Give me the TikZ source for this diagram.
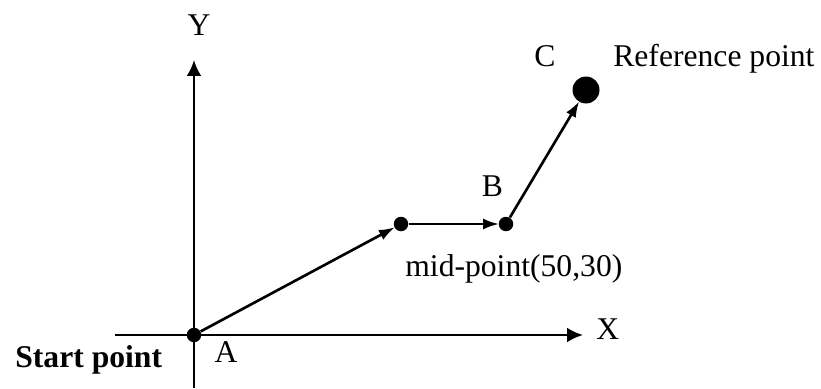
\documentclass[tikz,border=0pt]{standalone}
\usepackage{fontspec}
\setmainfont{Liberation Serif}
\usetikzlibrary{arrows.meta,positioning}
\tikzset{
  pt/.style={circle,fill=black,minimum size=2.9mm,inner sep=0pt},
  ptb/.style={circle,fill=black,minimum size=5.4mm,inner sep=0pt},
  ax/.style={-{Latex[length=3.2mm,width=3mm]},line width=1.5pt},
  seg/.style={-{Latex[length=3.2mm,width=2.2mm]},line width=1.5pt,shorten >=-0.4pt},
  lb/.style={font=\fontsize{18}{21}\selectfont,inner sep=0pt},
}
\begin{document}
\begin{tikzpicture}
\useasboundingbox (-3.88,-1.06) rectangle (12.54,6.70);
% axes
\coordinate (xs) at (-1.58,0); \coordinate (xe) at (7.78,0);
\coordinate (ys) at (0,-1.06); \coordinate (ye) at (0,5.5);
\draw[ax] (xs) -- (xe);
\draw[ax] (ys) -- (ye);
\node[lb,anchor=base west] (xl) at (8.04,-0.08) {X};
\node[lb,anchor=base] (yl) at (0.10,5.98) {Y};
% path A -> mid -> B -> C
\node[pt] (A) at (0,0) {};
\node[pt] (M) at (4.14,2.22) {};
\node[pt] (B) at (6.24,2.22) {};
\node[ptb] (C) at (7.84,4.90) {};
\draw[seg] (A) -- (M);
\draw[seg] (M) -- (B);
\draw[seg] (B) -- (C);
% labels
\node[lb,anchor=base] (al) at (0.64,-0.55) {A};
\node[lb,anchor=base west,font=\fontsize{18}{21}\selectfont\bfseries] (sl) at (-3.58,-0.64) {Start point};
\node[lb,anchor=base] (bl) at (5.97,2.78) {B};
\node[lb,anchor=base west] (ml) at (4.22,1.18) {mid-point(50,30)};
\node[lb,anchor=base] (cl) at (7.02,5.37) {C};
\node[lb,anchor=base west] (rl) at (8.38,5.37) {Reference point};
\end{tikzpicture}
\end{document}
